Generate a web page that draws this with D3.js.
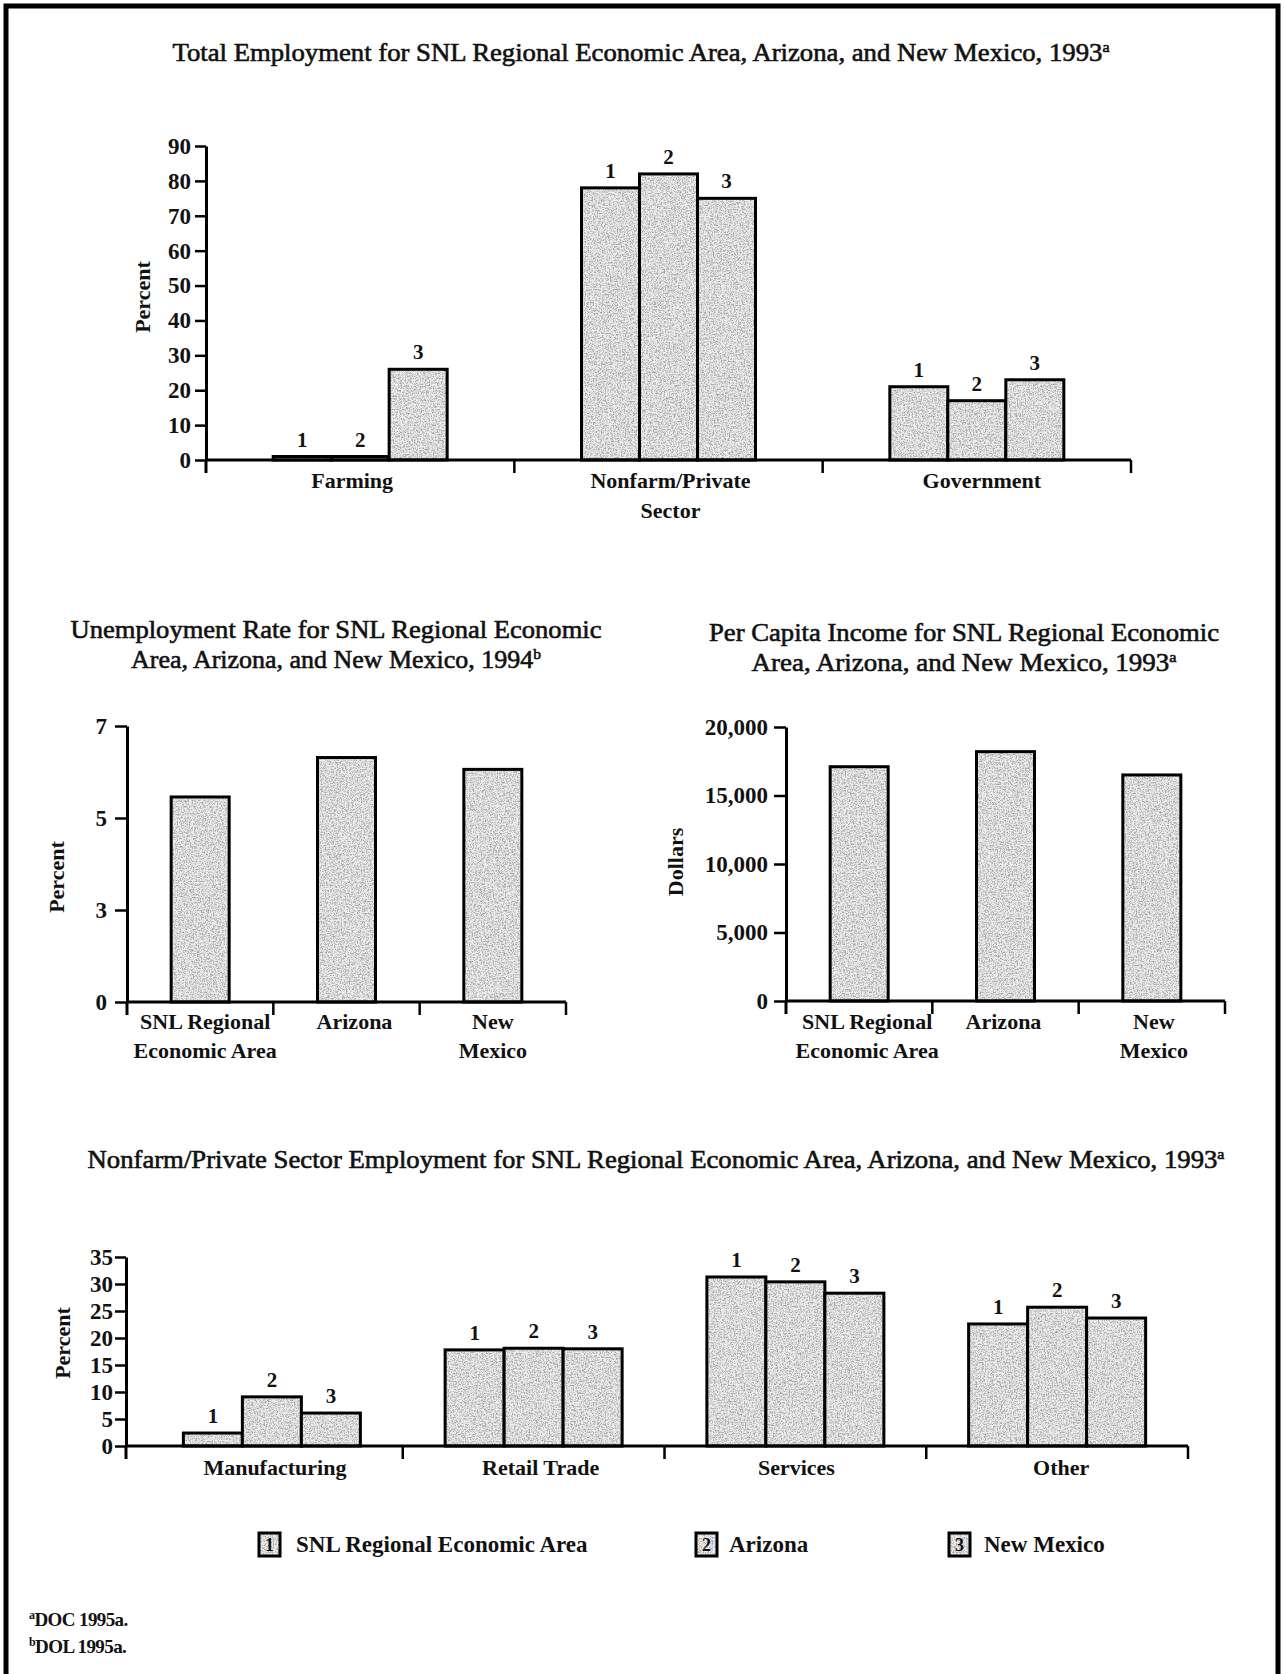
<!DOCTYPE html>
<html>
<head>
<meta charset="utf-8">
<script src="https://cdn.jsdelivr.net/npm/d3@7"></script>
<style>
  html, body { margin: 0; padding: 0; background: #fff; }
  svg { display: block; }
  text { font-family: "Liberation Serif", "Times New Roman", serif; fill: #111; }
  .title { font-size: 25px; stroke: #111; stroke-width: 0.6px; }
  .lab { font-size: 22px; font-weight: bold; }
  .tick-label { font-size: 23px; font-weight: bold; }
  .key { font-size: 21px; font-weight: bold; }
</style>
</head>
<body>
<svg id="chart" width="1284" height="1674"></svg>
<script>
// ---------------- data ----------------
const seriesKeys = ["1", "2", "3"];
const seriesNames = ["SNL Regional Economic Area", "Arizona", "New Mexico"];

// Total employment, 1993 (percent)
const employmentCategories = ["Farming", "Nonfarm/Private\nSector", "Government"];
const employmentSNL = [1, 78, 21];
const employmentArizona = [1, 82, 17];
const employmentNewMexico = [26, 75, 23];
const employmentTicks = [0, 10, 20, 30, 40, 50, 60, 70, 80, 90];

// Unemployment rate, 1994 (percent)
const regionCategories = ["SNL Regional\nEconomic Area", "Arizona", "New\nMexico"];
const unemploymentRate = [5.2, 6.2, 5.9];
const unemploymentMax = 7;
const unemploymentTickLabels = ["0", "3", "5", "7"];

// Per capita income, 1993 (dollars)
const perCapitaIncome = [17100, 18200, 16500];
const incomeTicks = [0, 5000, 10000, 15000, 20000];

// Nonfarm/private sector employment, 1993 (percent)
const sectorCategories = ["Manufacturing", "Retail Trade", "Services", "Other"];
const sectorSNL = [2.4, 17.8, 31.3, 22.6];
const sectorArizona = [9.1, 18.1, 30.4, 25.7];
const sectorNewMexico = [6.1, 18.0, 28.3, 23.7];
const sectorTicks = [0, 5, 10, 15, 20, 25, 30, 35];

const footnotes = [["a", "DOC 1995a."], ["b", "DOL 1995a."]];

// ---------------- drawing ----------------
const svg = d3.select("#chart");
const defs = svg.append("defs");

// halftone-like speckle used inside every bar
const f = defs.append("filter").attr("id", "stipple")
  .attr("x", "0%").attr("y", "0%").attr("width", "100%").attr("height", "100%");
f.append("feTurbulence").attr("type", "fractalNoise").attr("baseFrequency", 0.75)
  .attr("numOctaves", 2).attr("seed", 11).attr("result", "noise");
f.append("feColorMatrix").attr("in", "noise").attr("type", "matrix")
  .attr("values", "0 0 0 0 0.15  0 0 0 0 0.15  0 0 0 0 0.15  1 0 0 0 0").attr("result", "a");
const ct = f.append("feComponentTransfer").attr("in", "a").attr("result", "dots");
ct.append("feFuncA").attr("type", "discrete").attr("tableValues", "0 0 0 0 0 0.3 0.55 0.7 0.75 0.75");
f.append("feComposite").attr("in", "dots").attr("in2", "SourceGraphic").attr("operator", "in").attr("result", "clipped");
const fm = f.append("feMerge");
fm.append("feMergeNode").attr("in", "SourceGraphic");
fm.append("feMergeNode").attr("in", "clipped");

// page frame
svg.append("rect").attr("x", 6).attr("y", 6).attr("width", 1272).attr("height", 1720)
  .attr("fill", "none").attr("stroke", "#000").attr("stroke-width", 5);

function title(lines, cx) {
  lines.forEach(l => {
    const t = svg.append("text").attr("class", "title").attr("x", cx).attr("y", l.y)
      .attr("text-anchor", "middle").attr("textLength", l.w).attr("lengthAdjust", "spacingAndGlyphs");
    t.append("tspan").text(l.text);
    if (l.sup) t.append("tspan").attr("dy", -9).attr("font-size", 15).text(l.sup);
  });
}

function stippleRect(g, x, y, w, h) {
  g.append("rect").attr("x", x).attr("y", y).attr("width", w).attr("height", h)
    .attr("fill", "#ececec").attr("filter", "url(#stipple)");
  g.append("rect").attr("x", x).attr("y", y).attr("width", w).attr("height", h)
    .attr("fill", "none").attr("stroke", "#000").attr("stroke-width", 3);
}

function drawPanel(p) {
  const g = svg.append("g");
  const n = p.categories.length, m = p.series.length;
  const x0 = d3.scaleBand().domain(d3.range(n)).range(p.bandRange);
  const bw = x0.bandwidth();
  const x1 = d3.scaleBand().domain(d3.range(m))
    .range([(bw - m * p.barW) / 2, (bw + m * p.barW) / 2]);
  const y = p.y;

  const data = [];
  p.categories.forEach((c, i) => p.series.forEach((arr, s) => data.push({ i, s, v: arr[i] })));

  const barG = g.append("g");
  data.forEach(d => {
    const bg = barG.append("g");
    stippleRect(bg, x0(d.i) + x1(d.s), y(d.v), x1.bandwidth(), y(0) - y(d.v));
    if (p.keys) {
      bg.append("text").attr("class", "key").attr("text-anchor", "middle")
        .attr("x", x0(d.i) + x1(d.s) + x1.bandwidth() / 2).attr("y", y(d.v) - 10)
        .text(seriesKeys[d.s]);
    }
  });

  // value axis
  const ya = d3.axisLeft(y).tickValues(p.ticks).tickSize(p.tickSize)
    .tickSizeOuter(0).tickPadding(p.tickPad);
  if (p.tickFormat) ya.tickFormat(p.tickFormat);
  const yg = g.append("g").attr("transform", `translate(${p.axisX},0)`).call(ya);
  yg.attr("font-family", null).attr("font-size", null);
  yg.select(".domain").attr("stroke", "#000").attr("stroke-width", 3);
  yg.selectAll(".tick line").attr("stroke", "#000").attr("stroke-width", 2.5);
  yg.selectAll(".tick text").attr("class", "tick-label").attr("fill", "#111");

  // category axis: baseline plus band boundary ticks
  g.append("line").attr("x1", p.axisX).attr("x2", p.axisX).attr("y1", y(0)).attr("y2", y(0) + 13)
    .attr("stroke", "#000").attr("stroke-width", 3);
  g.append("line").attr("x1", p.axisX - 1).attr("x2", p.bandRange[1]).attr("y1", y(0)).attr("y2", y(0))
    .attr("stroke", "#000").attr("stroke-width", 3);
  const bounds = d3.range(1, n).map(i => x0(i)).concat([p.bandRange[1]]);
  g.selectAll(".bt").data(bounds).join("line").attr("class", "bt")
    .attr("x1", d => d).attr("x2", d => d).attr("y1", y(0)).attr("y2", y(0) + 13)
    .attr("stroke", "#000").attr("stroke-width", 2.5);

  // category labels
  p.categories.forEach((c, i) => {
    c.split("\n").forEach((line, k) => {
      g.append("text").attr("class", "lab").attr("text-anchor", "middle")
        .attr("x", x0(i) + bw / 2 + (p.labelShift ? p.labelShift[i] : 0))
        .attr("y", p.labelY + k * p.lineH).text(line);
    });
  });

  // value axis title
  g.append("text").attr("class", "lab")
    .attr("transform", `translate(${p.yLabel[0]},${p.yLabel[1]}) rotate(-90)`)
    .attr("text-anchor", "middle").attr("dominant-baseline", "central").text(p.yTitle);
}

// ---- Total employment ----
title([{ text: "Total Employment for SNL Regional Economic Area, Arizona, and New Mexico, 1993", sup: "a", y: 61, w: 937 }], 641);
drawPanel({
  categories: employmentCategories,
  series: [employmentSNL, employmentArizona, employmentNewMexico],
  bandRange: [206, 1131], axisX: 206,
  y: d3.scaleLinear().domain([0, 90]).range([460, 146]),
  ticks: employmentTicks, tickSize: 11, tickPad: 4,
  barW: 58, keys: true, labelY: 488, lineH: 30,
  labelShift: [-8, 2, 5],
  yTitle: "Percent", yLabel: [142, 297]
});

// ---- Unemployment rate ----
title([
  { text: "Unemployment Rate for SNL Regional Economic", y: 638, w: 531 },
  { text: "Area, Arizona, and New Mexico, 1994", sup: "b", y: 668, w: 410 }
], 336);
const unemploymentTickValues = unemploymentTickLabels.map((t, i) => unemploymentMax * i / (unemploymentTickLabels.length - 1));
drawPanel({
  categories: regionCategories,
  series: [unemploymentRate],
  bandRange: [127, 566], axisX: 127,
  y: d3.scaleLinear().domain([0, unemploymentMax]).range([1002, 726]),
  ticks: unemploymentTickValues, tickFormat: (d, i) => unemploymentTickLabels[i],
  tickSize: 12, tickPad: 8,
  barW: 58, keys: false, labelY: 1029, lineH: 29,
  labelShift: [5, 8, 0],
  yTitle: "Percent", yLabel: [56, 877]
});

// ---- Per capita income ----
title([
  { text: "Per Capita Income for SNL Regional Economic", y: 641, w: 510 },
  { text: "Area, Arizona, and New Mexico, 1993", sup: "a", y: 671, w: 425 }
], 964);
drawPanel({
  categories: regionCategories,
  series: [perCapitaIncome],
  bandRange: [786, 1225], axisX: 786,
  y: d3.scaleLinear().domain([0, 20000]).range([1001, 727]),
  ticks: incomeTicks, tickFormat: d3.format(","),
  tickSize: 12, tickPad: 6,
  barW: 58, keys: false, labelY: 1029, lineH: 29,
  labelShift: [8, -2, 2],
  yTitle: "Dollars", yLabel: [675, 862]
});

// ---- Nonfarm/private sector employment ----
title([{ text: "Nonfarm/Private Sector Employment for SNL Regional Economic Area, Arizona, and New Mexico, 1993", sup: "a", y: 1168, w: 1137 }], 656);
drawPanel({
  categories: sectorCategories,
  series: [sectorSNL, sectorArizona, sectorNewMexico],
  bandRange: [141, 1188], axisX: 126,
  y: d3.scaleLinear().domain([0, 35]).range([1446, 1257]),
  ticks: sectorTicks, tickSize: 11, tickPad: 2,
  barW: 59, keys: true, labelY: 1475, lineH: 28,
  labelShift: [3, 7, 1, 4],
  yTitle: "Percent", yLabel: [62, 1343]
});

// ---- legend ----
const legendBoxX = [259, 696, 949];
const legendTextX = [296, 729, 984];
seriesNames.forEach((name, i) => {
  const lg = svg.append("g");
  stippleRect(lg, legendBoxX[i], 1533, 21, 23);
  lg.append("text").attr("x", legendBoxX[i] + 10.5).attr("y", 1551).attr("text-anchor", "middle")
    .attr("font-size", 18).attr("font-weight", "bold").text(seriesKeys[i]);
  lg.append("text").attr("x", legendTextX[i]).attr("y", 1552)
    .attr("font-size", 23).attr("font-weight", "bold").text(name);
});

// ---- source notes ----
footnotes.forEach((fn, i) => {
  const t = svg.append("text").attr("x", 29).attr("y", 1626 + i * 27)
    .attr("font-size", 19).attr("font-weight", "bold").attr("letter-spacing", -0.6);
  t.append("tspan").attr("font-size", 12).attr("dy", -7).text(fn[0]);
  t.append("tspan").attr("dy", 7).text(fn[1]);
});
</script>
</body>
</html>
